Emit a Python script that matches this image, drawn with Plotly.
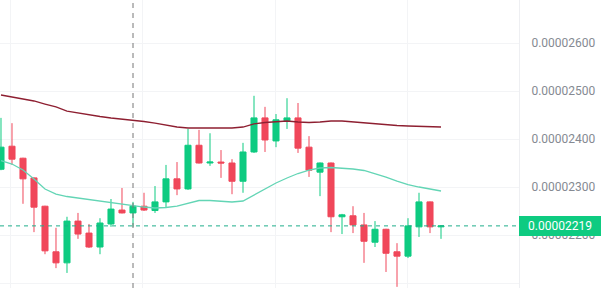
import numpy as np
import plotly.graph_objects as go

# Prices in units of 1e-8
opens  = [2337, 2385, 2360, 2319, 2260, 2165, 2142, 2229, 2204, 2175,
          2223, 2252, 2246, 2260, 2251, 2269, 2317, 2296, 2387, 2350,
          2352, 2350, 2312, 2373, 2444, 2396, 2438, 2444, 2383, 2331,
          2350, 2238, 2240, 2221, 2185, 2212, 2165, 2156, 2217, 2269, 2217]
highs  = [2444, 2433, 2361, 2320, 2261, 2215, 2238, 2246, 2223, 2235,
          2275, 2298, 2269, 2288, 2302, 2346, 2352, 2421, 2419, 2412,
          2377, 2358, 2392, 2490, 2467, 2452, 2485, 2475, 2406, 2351,
          2351, 2244, 2260, 2246, 2229, 2213, 2183, 2235, 2288, 2270, 2220]
lows   = [2335, 2346, 2265, 2206, 2160, 2131, 2121, 2192, 2173, 2160,
          2217, 2245, 2217, 2250, 2246, 2258, 2283, 2294, 2349, 2344,
          2319, 2285, 2288, 2371, 2373, 2383, 2421, 2371, 2321, 2281,
          2206, 2202, 2204, 2142, 2175, 2123, 2092, 2152, 2196, 2204, 2192]
closes = [2383, 2358, 2317, 2258, 2167, 2142, 2229, 2202, 2175, 2225,
          2254, 2246, 2260, 2252, 2269, 2317, 2296, 2387, 2350, 2352,
          2350, 2312, 2373, 2444, 2398, 2440, 2444, 2381, 2335, 2350,
          2238, 2242, 2221, 2187, 2212, 2162, 2156, 2219, 2269, 2217, 2219]

ma_long = [2491.7, 2487.5, 2483.3, 2479.2, 2472.9, 2466.7, 2458.3, 2454.2, 2450.0, 2446.9,
           2443.8, 2441.7, 2439.6, 2436.5, 2433.3, 2429.2, 2425.0, 2422.9, 2422.9, 2422.9,
           2422.9, 2422.9, 2425.0, 2431.3, 2434.4, 2436.5, 2437.5, 2435.4, 2434.4, 2435.4,
           2437.5, 2437.5, 2435.4, 2433.3, 2431.3, 2429.2, 2428.1, 2427.1, 2426.0, 2425.0, 2425.0]
ma_short = [2355.2, 2347.9, 2335.4, 2316.7, 2295.8, 2285.4, 2280.2, 2277.1, 2274.0, 2270.8,
            2267.7, 2263.5, 2260.4, 2258.3, 2256.3, 2257.3, 2260.4, 2266.7, 2271.9, 2271.9,
            2269.8, 2268.8, 2270.8, 2283.3, 2295.8, 2308.3, 2318.8, 2328.1, 2335.4, 2339.6,
            2340.6, 2339.6, 2337.5, 2334.4, 2328.1, 2320.8, 2312.5, 2305.2, 2300.0, 2295.8, 2291.7]

tick_values = [2100, 2200, 2300, 2400, 2500, 2600]
tick_labels = ["0.00002100", "0.00002200", "0.00002300", "0.00002400", "0.00002500", "0.00002600"]
last_price = 2219
last_label = "0.00002219"
crosshair_index = 12

SCALE = 1e-8
GREEN = "#0ecb81"
RED = "#f0475a"

x = np.arange(len(opens))
o = np.array(opens) * SCALE
h = np.array(highs) * SCALE
l = np.array(lows) * SCALE
c = np.array(closes) * SCALE

fig = go.Figure()
fig.add_trace(go.Scatter(x=x, y=np.array(ma_long) * SCALE, mode="lines",
                         line=dict(color="#8e1f31", width=1.3), hoverinfo="skip"))
fig.add_trace(go.Scatter(x=x, y=np.array(ma_short) * SCALE, mode="lines",
                         line=dict(color="#63d5b5", width=1.3), hoverinfo="skip"))
fig.add_trace(go.Candlestick(
    x=x, open=o, high=h, low=l, close=c,
    increasing=dict(line=dict(color=GREEN, width=1), fillcolor=GREEN),
    decreasing=dict(line=dict(color=RED, width=1), fillcolor=RED),
    whiskerwidth=0,
))

# price line
fig.add_shape(type="line", xref="paper", x0=0, x1=1, yref="y",
              y0=last_price * SCALE, y1=last_price * SCALE,
              line=dict(color="#1fae8a", width=1, dash="4px,4px"), layer="above")
# crosshair
fig.add_shape(type="line", xref="x", x0=crosshair_index, x1=crosshair_index,
              yref="paper", y0=0, y1=1,
              line=dict(color="#777777", width=1, dash="5px,5px"), layer="above")

fig.add_annotation(x=1, xref="paper", xanchor="left", y=last_price * SCALE, yref="y",
                   yanchor="middle", text=last_label, showarrow=False,
                   font=dict(family="Roboto", size=12, color="white"),
                   bgcolor=GREEN, borderwidth=0, borderpad=0, width=82, height=20,
                   align="center")

fig.update_layout(
    width=601, height=288,
    margin=dict(l=0, r=82, t=0, b=0),
    paper_bgcolor="white", plot_bgcolor="white",
    showlegend=False,
    boxgap=0.45, boxgroupgap=0,
    font=dict(family="Roboto", size=12, color="#858a92"),
)
fig.update_xaxes(
    range=[-0.09, 47.09], rangeslider_visible=False,
    showticklabels=False, tick0=0.909, dtick=12,
    showgrid=True, gridcolor="#f3f4f6", zeroline=False, showline=False,
)
fig.update_yaxes(
    side="right", range=[2089.6 * SCALE, 2689.6 * SCALE],
    tickvals=[v * SCALE for v in tick_values], ticktext=tick_labels,
    showgrid=True, gridcolor="#f3f4f6", zeroline=False,
    showline=True, linecolor="#eeeff2", linewidth=1,
    ticks="", ticklabelstandoff=9,
    tickfont=dict(family="Roboto", size=12, color="#858a92"),
)

fig.write_html("out.html", config={"displayModeBar": False})
